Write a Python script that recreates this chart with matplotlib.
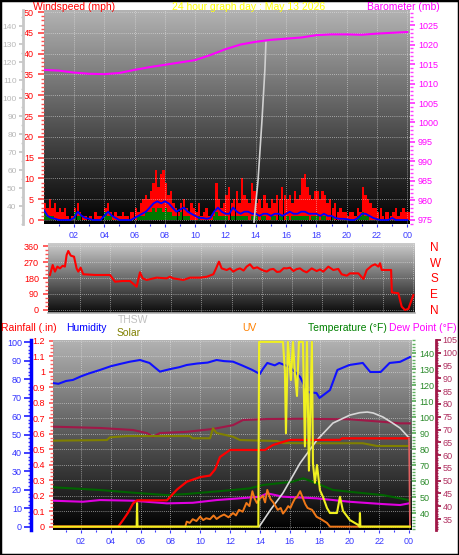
import numpy as np
import matplotlib
matplotlib.use('Agg')
import matplotlib.pyplot as plt
from matplotlib.patches import Rectangle
from matplotlib.ticker import MultipleLocator, FuncFormatter

plt.rcParams['font.family'] = ['Liberation Sans']

W, H, DPI = 459, 555, 100
PT = 72.0 / DPI  # points per pixel

# ---------------- DATA ----------------
hour_ticks = [2, 4, 6, 8, 10, 12, 14, 16, 18, 20, 22, 24]
hour_labels = ['02', '04', '06', '08', '10', '12', '14', '16', '18', '20', '22', '00']

# gust / speed: 10-minute records from hour 0 to hour 24
gust_hours = np.arange(0, 24.01, 1 / 6)
wind_gust = [4, 3, 5, 3, 4, 2, 3, 2, 3, 1, 0, 1, 3, 4, 2, 1, 1, 0, 1, 0, 2, 1, 1, 0,
             3, 4, 2, 1, 2, 1, 1, 2, 1, 1, 2, 2, 3, 2, 4, 5, 6, 5, 7, 9, 12, 8, 11, 12,
             9, 6, 7, 4, 3, 2, 4, 5, 3, 2, 4, 3, 2, 4, 1, 2, 3, 1, 1, 2, 9, 5, 3, 4,
             6, 8, 4, 5, 7, 4, 10, 6, 5, 4, 9, 7, 4, 5, 3, 6, 4, 3, 5, 4, 6, 5, 8, 6,
             5, 6, 4, 7, 5, 6, 10, 11, 8, 6, 5, 7, 7, 5, 7, 6, 4, 5, 3, 4, 2, 3, 2, 2,
             1, 2, 2, 1, 3, 2, 8, 6, 5, 4, 3, 3, 2, 3, 1, 2, 2, 1, 2, 3, 1, 2, 3, 2, 2]
wind_speed = [2, 1, 1, 1, 0, 0, 0, 0, 0, 0, 0, 0, 2, 1, 1, 0, 0, 0, 0, 0, 0, 0, 0, 0,
              2, 1, 1, 0, 0, 0, 0, 0, 0, 0, 0, 0, 0, 1, 1, 1, 2, 2, 2, 3, 2, 3, 3, 2,
              3, 2, 2, 1, 1, 1, 2, 1, 1, 1, 0, 0, 0, 1, 0, 0, 0, 0, 0, 1, 2, 1, 1, 1,
              1, 0, 1, 1, 1, 1, 1, 1, 1, 0, 1, 1, 1, 0, 1, 1, 0, 0, 1, 1, 0, 1, 1, 0,
              1, 0, 1, 1, 1, 1, 1, 1, 1, 0, 1, 1, 1, 0, 1, 1, 0, 0, 1, 0, 0, 0, 0, 0,
              0, 0, 0, 0, 1, 1, 2, 1, 1, 0, 0, 0, 0, 0, 0, 0, 0, 0, 0, 0, 0, 0, 0, 0, 0]

# average wind: 15-minute steps
avg_hours = np.arange(0, 24.01, 0.25)
wind_avg = [2.5, 1, 0.5, 0.3, 0, 0, 0, 0, 0.5, 2, 1, 0.5, 0.3, 0, 0, 0,
            1, 2, 1, 0.5, 0, 0, 0, 0, 0.5, 1, 1.5, 2, 3, 4, 4.5, 4,
            4.5, 4, 3, 2, 2.5, 3, 2, 1.5, 1, 0.5, 0.5, 0.3, 0.5, 2, 3, 2,
            1.5, 1.5, 3, 2, 1.5, 2, 2, 1.5, 1.5, 1, 1.5, 1.5, 1, 1.5, 1.5, 1,
            1.5, 2, 1.5, 1.5, 2, 2, 1.5, 1.5, 1.5, 1, 1.5, 1, 1, 0.5, 0.3, 0.3,
            0.2, 0, 0, 0.5, 1.5, 1.5, 1, 0.5, 0.2, 0, 0, 0, 0.5, 0, 0, 0, 0]

baro_hours = list(range(25))
baro_mb = [1013.5, 1013.3, 1012.8, 1012.5, 1012.4, 1012.7, 1013.5, 1014.2, 1014.8,
           1015.4, 1016.0, 1017.3, 1018.8, 1020.0, 1020.7, 1021.2, 1021.5, 1021.8,
           1022.4, 1022.6, 1022.6, 1022.5, 1022.8, 1023.0, 1023.2]

grey_hours = [13.88, 14.15, 14.41, 14.6, 14.67]
grey_vals = [31.1, 54.4, 87.8, 115.6, 131.0]

dir_hours = [0, 0.18, 0.33, 0.49, 0.66, 0.84, 0.99, 1.10, 1.21, 1.37, 1.59, 1.76, 1.87,
             2.03, 2.20, 3.0, 3.97, 4.30, 4.8, 5.29, 5.73, 5.95, 6.13, 6.39, 7.05,
             7.71, 7.93, 8.15, 8.82, 9.26, 9.92, 10.36, 10.80, 10.98, 11.17, 11.35,
             11.68, 11.90, 12.12, 12.35, 12.56, 12.8, 13.0, 13.22, 13.45, 13.7, 13.88,
             14.1, 14.33, 14.55, 14.77, 15.0, 15.21, 15.45, 15.65, 15.87, 16.09, 16.3,
             16.53, 16.75, 16.97, 17.3, 17.63, 17.85, 18.07, 18.4, 18.73, 19.06, 19.28,
             19.62, 19.83, 20.39, 20.72, 20.94, 21.27, 21.49, 21.71, 21.82, 21.93,
             22.55, 22.6, 23.03, 23.25, 23.47, 23.69, 24.02]
dir_deg = [197, 253, 216, 244, 234, 249, 244, 309, 332, 306, 300, 234, 216,
           238, 201, 197, 197, 159, 163, 163, 131, 212, 178, 169, 182,
           178, 187, 178, 169, 182, 182, 187, 201, 234, 272, 234,
           225, 234, 216, 228, 234, 222, 244, 257, 234, 240, 231,
           222, 216, 228, 231, 214, 216, 235, 234, 238, 219, 230,
           234, 220, 212, 234, 219, 228, 216, 244, 225, 231, 201,
           193, 206, 206, 174, 225, 249, 257, 244, 263, 225,
           225, 99, 94, 19, 0, 6, 84]

# lower panel
hum_hours = [0.13, 0.5, 1.0, 1.47, 2.0, 2.5, 3.28, 4.0, 4.6, 5.3, 5.97, 6.6, 7.3, 8.0,
             8.6, 9.1, 9.8, 10.5, 11.1, 11.6, 12.2, 12.8, 13.5, 14.0, 14.2, 14.5, 15.0,
             15.3, 16.0, 16.7, 17.2, 17.8, 18.0, 18.7, 19.2, 20.0, 20.9, 21.4, 22.1,
             22.7, 23.4, 24.06]
hum_pct = [77.9, 77.5, 79.0, 79.6, 81.5, 83.0, 85.0, 87.0, 88.2, 89.5, 90.4, 88.8, 84.1,
           85.5, 86.5, 87.7, 88.5, 89.0, 90.4, 89.8, 89.5, 87.5, 85.0, 82.8, 85.5, 88.8,
           87.5, 88.8, 86.6, 81.2, 73.0, 72.5, 69.8, 74.1, 85.0, 87.7, 88.8, 83.9, 83.9,
           88.8, 89.4, 92.0]

rain_hours = [0.13, 4.5, 4.83, 5.16, 5.5, 5.76, 7.77, 8.45, 9.1, 10.0, 10.66, 11.0,
              11.33, 12.0, 14.34, 14.88, 16.0, 19.37, 19.5, 24.0, 24.06]
rain_in = [0, 0, 0.043, 0.09, 0.15, 0.17, 0.17, 0.24, 0.29, 0.32, 0.33, 0.37,
           0.45, 0.495, 0.495, 0.527, 0.56, 0.56, 0.57, 0.57, 0.0]

thsw_hours = [0.13, 3.28, 5.5, 6.43, 6.84, 7.3, 9.1, 10.86, 12.2, 12.87, 14.48, 16.7,
              20.0, 22.25, 23.4, 24.06]
thsw_f = [71.1, 70.6, 69.8, 68.6, 67.2, 68.6, 69.1, 70.2, 71.7, 73.7, 74.1, 74.2,
          74.0, 73.0, 72.4, 72.4]

olive_hours = [0.13, 3.75, 3.95, 5.1, 9.3, 9.5, 10.66, 10.86, 11.1, 12.2, 12.67, 15.15,
               15.55, 17.8, 20.9, 21.85, 24.0]
olive_f = [85.4, 85.8, 87.5, 88.3, 88.3, 86.9, 86.9, 93.1, 90.2, 87.9, 85.8, 85.2,
           83.9, 83.8, 83.8, 82.1, 82.1]

temp_hours = [0.13, 3.28, 5.5, 7.77, 9.1, 12.2, 13.3, 14.2, 16.2, 16.9, 17.8, 18.9,
              20.0, 22.25, 23.4, 24.0]
temp_f = [56.3, 54.6, 52.9, 51.4, 52.1, 54.6, 55.6, 57.7, 59.8, 61.9, 58.8, 54.6,
          53.5, 51.4, 49.4, 48.3]

dew_hours = [0.13, 2.14, 3.28, 5.5, 7.77, 9.5, 11.1, 12.67, 14.0, 14.5, 15.55, 17.8,
             20.0, 22.25, 23.4, 24.0]
dew_f = [47.9, 47.25, 48.3, 47.9, 46.25, 46.6, 48.3, 49.4, 50.4, 52.5, 50.4, 49.4,
         47.25, 45.8, 45.2, 46.25]

arc_hours = [13.95, 14.7, 15.55, 16.7, 17.83, 18.9, 20.04, 20.7, 21.2, 21.6, 22.25,
             22.9, 23.4, 23.93]
arc_f = [31.6, 42.0, 52.7, 71.4, 85.8, 96.4, 101.4, 102.9, 103.3, 102.7, 100.2,
         96.4, 93.3, 87.9]

uv_hours = [0.13, 9.0, 9.1, 9.3, 9.5, 9.75, 10.0, 10.2, 10.4, 10.66, 10.9, 11.1, 11.35,
            11.6, 11.9, 12.2, 12.4, 12.6, 12.85, 13.1, 13.3, 13.5, 13.65, 13.8, 14.0,
            14.2, 14.35, 14.5, 14.7, 14.9, 15.05, 15.2, 15.4, 15.55, 15.75, 15.9, 16.05,
            16.2, 16.35, 16.5, 16.7, 16.9, 17.05, 17.2, 17.5, 17.8, 18.1, 18.5, 18.7,
            24.06]
uv_idx = [0, 0, 0.27, 0.2, 0.4, 0.3, 0.54, 0.35, 0.45, 0.4, 0.6, 0.41, 0.55, 0.65, 0.5,
          0.73, 0.6, 0.9, 0.8, 1.27, 1.1, 1.9, 1.5, 1.27, 1.5, 1.65, 1.3, 1.97, 1.5, 1.3,
          1.1, 0.9, 1.0, 0.7, 0.9, 1.1, 1.0, 1.27, 1.5, 1.6, 1.9, 1.5, 1.2, 1.0, 0.9,
          0.53, 0.4, 0.2, 0, 0]

solar_hours = [0.13, 5.74, 5.77, 5.80, 13.9, 13.95, 15.55, 15.68, 15.75, 15.88, 16.08,
               16.22, 16.35, 16.49, 16.62, 16.89, 17.02, 17.16, 17.29, 17.49, 17.56,
               17.69, 17.83, 18.03, 18.23, 18.5, 18.7, 19.17, 19.37, 19.57, 20.04,
               20.58, 20.68, 20.71, 20.74, 24.06]
solar_wm2 = [0, 0, 126, 0, 0, 990, 990, 835, 500, 990, 785, 990, 820, 700, 990, 990,
             430, 990, 300, 990, 340, 235, 330, 195, 160, 100, 73, 73, 160, 85, 35,
             10, 0, 73, 0, 0]

# ---------------- FIGURE ----------------
fig = plt.figure(figsize=(W / DPI, H / DPI), dpi=DPI, facecolor='white')


def rect(l, t, r, b):
    return [l / W, 1 - b / H, (r - l) / W, (b - t) / H]


def add_bg(rc, top, bottom):
    bg = fig.add_axes(rc, zorder=0)
    bg.set_axis_off()
    t = np.linspace(0, 1, 256)[:, None]
    col = top + (bottom - top) * t
    img = np.repeat(col[:, :, None], 3, axis=2)
    bg.imshow(img, aspect='auto', extent=[0, 1, 0, 1], interpolation='bilinear')
    bg.set_xlim(0, 1)
    bg.set_ylim(0, 1)
    return bg


def hide_spines(ax):
    for sp in ax.spines.values():
        sp.set_visible(False)


TL = 6.5
GRID = dict(color='#e8e8e8', linestyle=(0, (1, 1.5)), linewidth=0.6, alpha=0.7)


def yaxis_style(ax, side, color, labelcolor, major, minor, lmaj, lmin, pad, size=TL):
    ax.yaxis.set_major_locator(MultipleLocator(major))
    ax.yaxis.set_minor_locator(MultipleLocator(minor))
    kw = dict(left=(side == 'left'), right=(side == 'right'),
              labelleft=(side == 'left'), labelright=(side == 'right'))
    ax.tick_params(axis='y', which='major', color=color, labelcolor=labelcolor,
                   length=lmaj * PT, width=1.3, pad=pad * PT, labelsize=size, **kw)
    ax.tick_params(axis='y', which='minor', color=color, length=lmin * PT,
                   width=1.0, **kw)


def xaxis_style(ax, labels=True):
    ax.set_xticks(hour_ticks)
    ax.xaxis.set_minor_locator(MultipleLocator(1))
    if labels:
        ax.set_xticklabels(hour_labels)
        ax.tick_params(axis='x', which='major', colors='#3a3aff', length=3 * PT,
                       width=0.8, pad=4 * PT, labelsize=TL)
        ax.tick_params(axis='x', which='minor', colors='#3a3aff', length=2 * PT,
                       width=0.8)
    else:
        ax.set_xticklabels([])
        ax.tick_params(axis='x', which='both', length=0)


# ---- Panel 1 : wind / barometer ----
r1 = rect(44, 10, 410, 224)
add_bg(r1, 0.70, 0.0)
ax1 = fig.add_axes(r1, zorder=2, facecolor='none')
hide_spines(ax1)
ax1.set_xlim(0.02, 24.18)
ax1.set_ylim(-0.96, 50.5)
ax1.grid(True, which='major', **GRID)
ax1.bar(gust_hours, wind_gust, width=0.16, align='edge', color='#ff0000', lw=0)
ax1.bar(gust_hours, wind_speed, width=0.16, align='edge', color='#007a00', lw=0)
ax1.plot(avg_hours, wind_avg, color='#0000ff', lw=1.3)
xaxis_style(ax1, True)
yaxis_style(ax1, 'left', '#ff5050', '#ff0000', 5, 1, 6, 3, 4)

axg = ax1.twinx()
hide_spines(axg)
axg.set_ylim(30, 148.9)
axg.yaxis.tick_left()
axg.spines['left'].set_visible(True)
axg.spines['left'].set_position(('outward', 21 * PT))
axg.spines['left'].set_color('#c8c8c8')
axg.spines['left'].set_linewidth(2)
yaxis_style(axg, 'left', '#c8c8c8', '#b8b8b8', 10, 5, 4, 2, 2.5, size=6)
axg.set_yticks([40, 50, 60, 70, 80, 90, 100, 110, 120, 130, 140])
axg.plot(grey_hours, grey_vals, color='#d0d0d0', lw=1.2)

axb = ax1.twinx()
hide_spines(axb)
axb.set_ylim(973.97, 1028.85)
yaxis_style(axb, 'right', '#ff40ff', '#ff00ff', 5, 1, 5, 3, 3)
axb.plot(baro_hours, baro_mb, color='#ff00ff', lw=1.5)

# ---- Panel 2 : wind direction ----
r2 = rect(48, 243, 415, 313)
add_bg(r2, 0.80, 0.04)
ax2 = fig.add_axes(r2, zorder=2, facecolor='none')
hide_spines(ax2)
ax2.spines['bottom'].set_visible(True)
ax2.spines['bottom'].set_color('#b0b0b0')
ax2.spines['bottom'].set_linewidth(1.2)
ax2.set_xlim(-0.13, 24.13)
ax2.set_ylim(-16.9, 376.9)
ax2.grid(True, which='major', **GRID)
xaxis_style(ax2, False)
yaxis_style(ax2, 'left', '#ff5050', '#ff0000', 90, 22.5, 5, 3, 4)
ax2.plot(dir_hours, dir_deg, color='#ff0000', lw=1.5)
axc = ax2.twinx()
hide_spines(axc)
axc.set_ylim(-16.9, 376.9)
axc.set_yticks([0, 90, 180, 270, 360], ['N', 'E', 'S', 'W', 'N'])
axc.tick_params(axis='y', length=0, pad=15 * PT, labelsize=8.5, labelcolor='#ff0000')

# ---- Panel 3 ----
r3 = rect(53, 340, 412, 530)
add_bg(r3, 0.70, 0.0)
ax3 = fig.add_axes(r3, zorder=2, facecolor='none')
hide_spines(ax3)
ax3.set_xlim(0.134, 24.2)
ax3.set_ylim(-0.0213, 1.2045)
ax3.grid(True, which='major', **GRID)
xaxis_style(ax3, True)
yaxis_style(ax3, 'left', '#ff6060', '#ff0000', 0.1, 0.025, 4, 3, 4)
ax3.yaxis.set_major_formatter(FuncFormatter(
    lambda v, p: '0' if abs(v) < 1e-9 else ('1' if abs(v - 1) < 1e-9 else f'{v:.1f}')))

axd = ax3.twinx()  # maroon (THSW) axis
hide_spines(axd)
axd.set_ylim(30.7, 105)
axd.spines['right'].set_visible(True)
axd.spines['right'].set_position(('outward', 24 * PT))
axd.spines['right'].set_color('#a01848')
axd.spines['right'].set_linewidth(2)
yaxis_style(axd, 'right', '#a01848', '#b03060', 5, 1, 5, 2.5, 1.5)
axd.plot(thsw_hours, thsw_f, color='#a01848', lw=1.5)

axt = ax3.twinx()  # temperature axis
hide_spines(axt)
axt.set_ylim(29.6, 148.3)
yaxis_style(axt, 'right', '#60b060', '#2a8a2a', 10, 2, 4, 3, 3.5)
axt.set_yticks([40, 50, 60, 70, 80, 90, 100, 110, 120, 130, 140])
axt.plot(olive_hours, olive_f, color='#808000', lw=1.5)
axt.plot(temp_hours, temp_f, color='#006400', lw=1.5)
axt.plot(dew_hours, dew_f, color='#e000e0', lw=1.5)
axt.plot(arc_hours, arc_f, color='#d8d8d8', lw=1.2)

axr = ax3.twinx()  # rain drawing
hide_spines(axr)
axr.set_ylim(-0.0213, 1.2045)
axr.set_yticks([])
axr.plot(rain_hours[:-1], rain_in[:-1], color='#ff0000', lw=1.6)
axr.plot(rain_hours[-2:], rain_in[-2:], color='#e06060', lw=1.2)

axh = ax3.twinx()  # humidity
hide_spines(axh)
axh.set_ylim(-1.79, 101.25)
axh.yaxis.tick_left()
axh.spines['left'].set_visible(True)
axh.spines['left'].set_position(('outward', 22.5 * PT))
axh.spines['left'].set_color('#0000ff')
axh.spines['left'].set_linewidth(2.5)
yaxis_style(axh, 'left', '#3030ff', '#3030ff', 10, 2, 7, 3, 1.5)
axh.plot(hum_hours, hum_pct, color='#1010ff', lw=1.5)

axu = ax3.twinx()  # UV
hide_spines(axu)
axu.set_ylim(-0.18, 10)
axu.set_yticks([])
axu.plot(uv_hours, uv_idx, color='#f07818', lw=1.4)

axs = ax3.twinx()  # solar
hide_spines(axs)
axs.set_ylim(-18, 1000)
axs.set_yticks([])
axs.plot(solar_hours, solar_wm2, color='#f0f020', lw=1.5)


# ---------------- TEXT ----------------
def ftext(x, y, s, color, size=7.5, ha='left'):
    fig.text(x / W, 1 - y / H, s, color=color, fontsize=size, ha=ha, va='baseline')


ftext(33, 9.5, 'Windspeed (mph)', '#ff0000')
ftext(249, 9.5, '24 hour graph day : May 13 2026', '#ffff00', ha='center')
ftext(367, 9.5, 'Barometer (mb)', '#ff00ff')
ftext(1, 331, 'Rainfall (.in)', '#ff0000')
ftext(66, 331, 'Humidity', '#0000ff')
ftext(118, 323.3, 'THSW', '#c0c0c0')
ftext(117, 335.7, 'Solar', '#808000')
ftext(242, 331, 'UV', '#ff8000')
ftext(308, 331, 'Temperature (°F)', '#008000')
ftext(389, 331, 'Dew Point (°F)', '#ff00ff')

fig.add_artist(Rectangle((0, 0), 1, 1, transform=fig.transFigure, fill=False,
                         ec='black', lw=2.5))

fig.savefig('out.png', dpi=DPI, facecolor='white')
